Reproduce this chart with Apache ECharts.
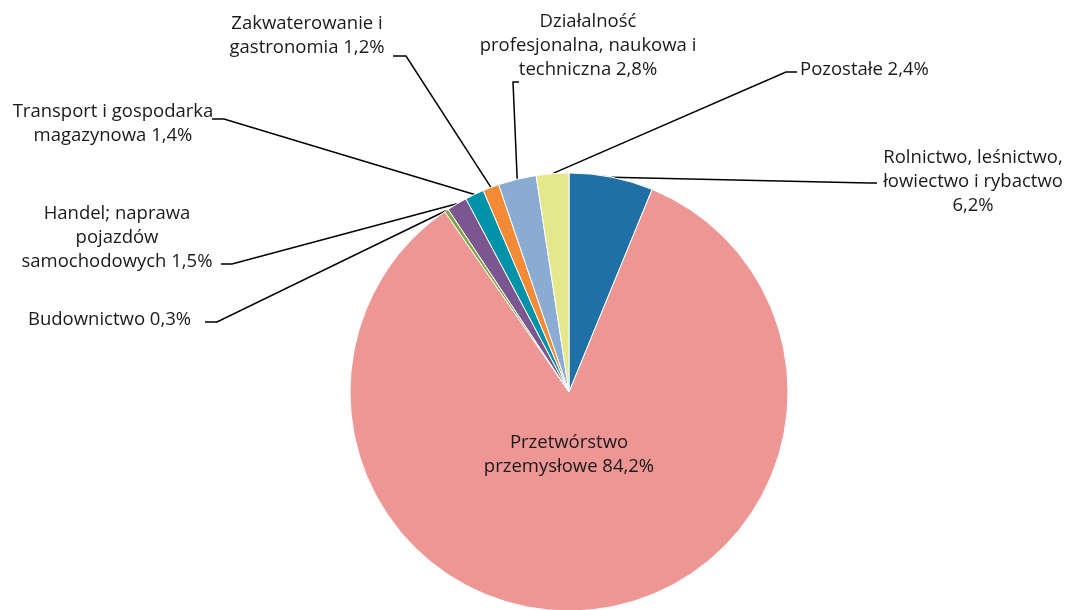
<!DOCTYPE html>
<html>
<head>
<meta charset="utf-8">
<script src="https://cdn.jsdelivr.net/npm/echarts@6/dist/echarts.min.js"></script>
<style>
  html, body { margin: 0; padding: 0; background: #fff; }
  #chart { width: 1069px; height: 610px; }
</style>
</head>
<body>
<div id="chart"></div>
<script>
// dane
const categories = [
  "Rolnictwo, leśnictwo,\nłowiectwo i rybactwo\n6,2%",
  "Przetwórstwo\nprzemysłowe 84,2%",
  "Budownictwo 0,3%",
  "Handel; naprawa\npojazdów\nsamochodowych 1,5%",
  "Transport i gospodarka\nmagazynowa 1,4%",
  "Zakwaterowanie i\ngastronomia 1,2%",
  "Działalność\nprofesjonalna, naukowa i\ntechniczna 2,8%",
  "Pozostałe 2,4%"
];
const shares = [6.2, 84.2, 0.3, 1.5, 1.4, 1.2, 2.8, 2.4];
const colors = ["#1F70A7", "#EE9693", "#7FA640", "#7B5690", "#0092A8", "#F28A36", "#8BACD2", "#E5E88A"];

// rozmieszczenie etykiet (x, y, wyrównanie, łamana linii)
const labelPlaces = [
  { x: 973, y: 182, align: "center", line: [[869, 183], [877, 183]] },
  { x: 569, y: 455, align: "center", line: null },
  { x: 28, y: 320, align: "left", line: [[217, 322], [205, 322]] },
  { x: 117, y: 238, align: "center", line: [[232, 264], [221, 264]] },
  { x: 113, y: 124, align: "center", line: [[224, 119], [212, 119]] },
  { x: 307, y: 36, align: "center", line: [[406, 56], [393, 56]] },
  { x: 588, y: 46, align: "center", line: [[513, 82], [519, 82]] },
  { x: 800, y: 70, align: "left", line: [[786, 72], [797, 72]] }
];

const chart = echarts.init(document.getElementById("chart"));
chart.setOption({
  animation: false,
  color: colors,
  series: [
    {
      type: "pie",
      center: [569, 392],
      radius: [0, 219],
      startAngle: 90,
      clockwise: true,
      itemStyle: { borderColor: "#fff", borderWidth: 1 },
      label: {
        show: true,
        position: "outside",
        formatter: (p) => p.name,
        fontFamily: "Open Sans",
        fontSize: 18.5,
        lineHeight: 24,
        color: "#1a1a1a"
      },
      labelLine: {
        show: true,
        length: 10,
        length2: 10,
        lineStyle: { color: "#000", width: 1.5 }
      },
      labelLayout: function (params) {
        const pl = labelPlaces[params.dataIndex];
        const out = { x: pl.x, y: pl.y, align: pl.align, verticalAlign: "middle" };
        if (pl.line && params.labelLinePoints) {
          out.labelLinePoints = [params.labelLinePoints[0], pl.line[0], pl.line[1]];
        }
        return out;
      },
      data: categories.map((name, i) => ({
        name: name,
        value: shares[i],
        labelLine: { show: labelPlaces[i].line !== null }
      }))
    }
  ]
});
</script>
</body>
</html>
